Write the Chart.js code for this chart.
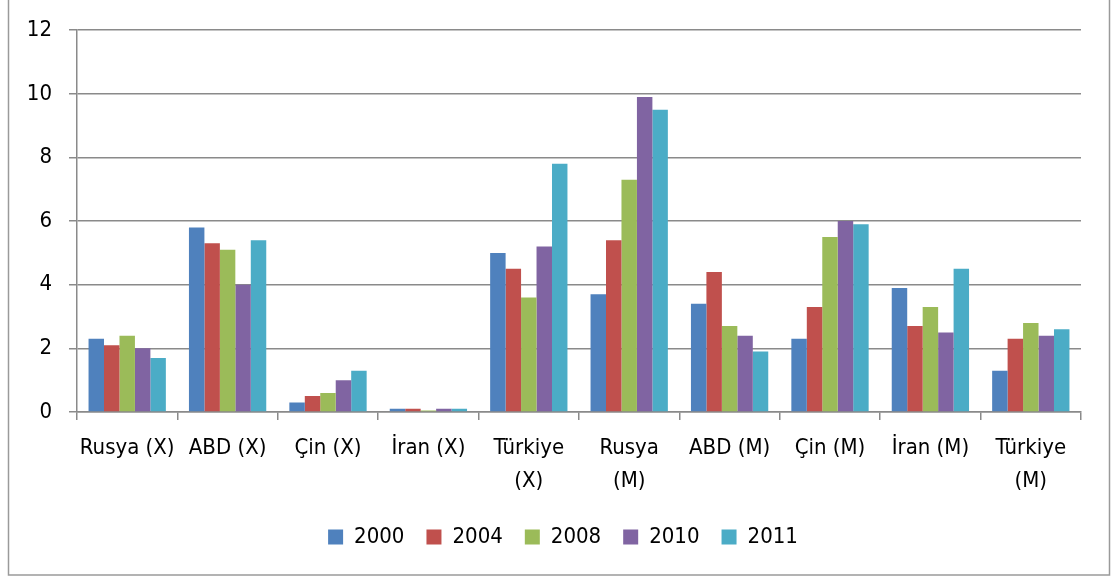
<!DOCTYPE html>
<html>
<head>
<meta charset="utf-8">
<script src="https://cdn.jsdelivr.net/npm/chart.js@4/dist/chart.umd.min.js"></script>
<style>
  html, body { margin: 0; padding: 0; background: #ffffff; }
  #wrap { width: 1115px; height: 578px; position: relative; }
</style>
</head>
<body>
<div id="wrap"><canvas id="c" width="1115" height="578"></canvas></div>
<script>
// Categories (multi-line where the label wraps under its group)
const categories = [
  'Rusya (X)', 'ABD (X)', 'Çin (X)', 'İran (X)', ['Türkiye', '(X)'],
  ['Rusya', '(M)'], 'ABD (M)', 'Çin (M)', 'İran (M)', ['Türkiye', '(M)']
];

const years = ['2000', '2004', '2008', '2010', '2011'];

const values2000 = [2.3, 5.8, 0.3, 0.1, 5.0, 3.7, 3.4, 2.3, 3.9, 1.3];
const values2004 = [2.1, 5.3, 0.5, 0.1, 4.5, 5.4, 4.4, 3.3, 2.7, 2.3];
const values2008 = [2.4, 5.1, 0.6, 0.05, 3.6, 7.3, 2.7, 5.5, 3.3, 2.8];
const values2010 = [2.0, 4.0, 1.0, 0.1, 5.2, 9.9, 2.4, 6.0, 2.5, 2.4];
const values2011 = [1.7, 5.4, 1.3, 0.1, 7.8, 9.5, 1.9, 5.9, 4.5, 2.6];

const yTicks = [0, 2, 4, 6, 8, 10, 12];

const seriesValues = [values2000, values2004, values2008, values2010, values2011];
const seriesColors = ['#4F81BD', '#C0504D', '#9BBB59', '#8064A2', '#4BACC6'];

const FONT = "'DejaVu Sans Condensed', 'Liberation Sans', sans-serif";
const GRID = '#8a8a8a';

// Outer frame around the whole chart; legend centred under the plot area
const framePlugin = {
  id: 'frame',
  afterLayout(chart) {
    const lg = chart.legend;
    if (lg) {
      const shift = (chart.chartArea.left + chart.chartArea.right) / 2 - (lg.left + lg.right) / 2 - 16;
      lg.left += shift;
      lg.right += shift;
    }
  },
  afterDraw(chart) {
    const ctx = chart.ctx;
    ctx.save();
    ctx.strokeStyle = '#9a9a9a';
    ctx.lineWidth = 1.5;
    ctx.strokeRect(8.5, -2, 1101, 577);
    ctx.restore();
  }
};

new Chart(document.getElementById('c'), {
  type: 'bar',
  data: {
    labels: categories,
    datasets: years.map((y, i) => ({
      label: y,
      data: seriesValues[i],
      backgroundColor: seriesColors[i],
      borderWidth: 0,
      categoryPercentage: 0.77,
      barPercentage: 1.0
    }))
  },
  options: {
    responsive: false,
    animation: false,
    devicePixelRatio: 1,
    layout: { padding: { top: 29, left: 0, right: 34, bottom: 20 } },
    plugins: {
      legend: {
        position: 'bottom',
        labels: {
          color: '#000',
          font: { family: FONT, size: 22 },
          boxWidth: 15,
          boxHeight: 15,
          padding: 22,
          useBorderRadius: false
        }
      },
      tooltip: { enabled: false },
      frame: {}
    },
    scales: {
      x: {
        grid: {
          offset: true,
          drawOnChartArea: false,
          drawTicks: true,
          tickLength: 8,
          color: GRID,
          lineWidth: 1.5
        },
        border: { color: GRID, width: 1.5 },
        ticks: {
          color: '#000',
          font: { family: FONT, size: 22, lineHeight: 1.5 },
          padding: 12,
          maxRotation: 0,
          autoSkip: false
        },
        afterFit(scale) { scale.height = 92; }
      },
      y: {
        min: 0,
        max: 12,
        afterBuildTicks(scale) { scale.ticks = yTicks.map(v => ({ value: v })); },
        grid: {
          color: GRID,
          lineWidth: 1.5,
          tickLength: 8,
          drawTicks: true
        },
        border: { color: GRID, width: 1.5 },
        ticks: {
          color: '#000',
          font: { family: FONT, size: 22 },
          padding: 17
        },
        afterFit(scale) { scale.width = 77; }
      }
    }
  },
  plugins: [framePlugin]
});
</script>
</body>
</html>
